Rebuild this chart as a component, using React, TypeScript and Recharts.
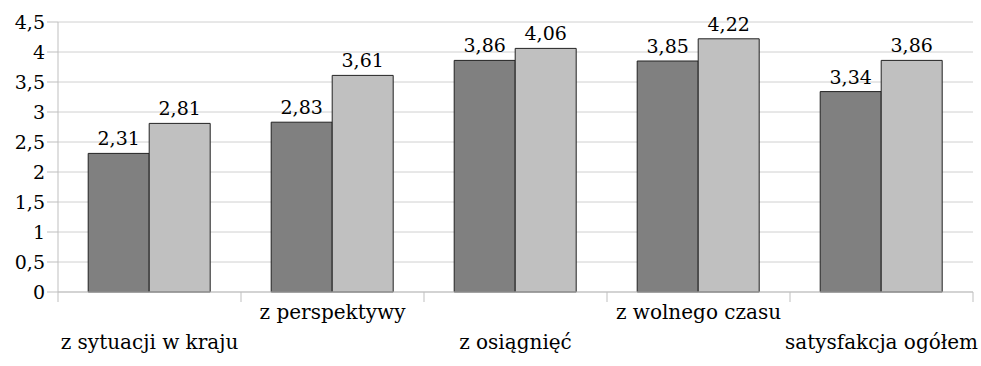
import { Bar, BarChart, CartesianGrid, LabelList, XAxis, YAxis } from "recharts";

const categories = [
  "z sytuacji w kraju",
  "z perspektywy",
  "z osiągnięć",
  "z wolnego czasu",
  "satysfakcja ogółem",
];
const seriesA = [2.31, 2.83, 3.86, 3.85, 3.34];
const seriesB = [2.81, 3.61, 4.06, 4.22, 3.86];
const yTicks = [0, 0.5, 1, 1.5, 2, 2.5, 3, 3.5, 4, 4.5];

const data = categories.map((name, i) => ({ name, a: seriesA[i], b: seriesB[i] }));

const W = 981;
const H = 366;
const margin = { top: 22, right: 8, left: 0, bottom: 0 };
const yAxisWidth = 58;
const band = (W - margin.left - margin.right - yAxisWidth) / categories.length;

const FONT = "'DejaVu Serif', serif";
const comma = (v: any) => String(v).replace(".", ",");

const CategoryTick = (props: any) => {
  const { x, y, payload, index } = props;
  const dy = index % 2 === 0 ? 57 : 27;
  const last = index === categories.length - 1;
  return (
    <g>
      <line x1={x - band / 2} x2={x - band / 2} y1={y} y2={y + 10} stroke="#bfbfbf" />
      {last && <line x1={x + band / 2} x2={x + band / 2} y1={y} y2={y + 10} stroke="#bfbfbf" />}
      <text x={x} y={y + dy} textAnchor="middle" fontSize={20} fontFamily={FONT} fill="#000">
        {payload.value}
      </text>
    </g>
  );
};

export default function App() {
  return (
    <div style={{ position: "absolute", left: 0, top: 0, background: "#fff" }}>
      <BarChart width={W} height={H} data={data} margin={margin} barCategoryGap="16.5%" barGap={0}>
        <CartesianGrid vertical={false} stroke="#d0d0d0" />
        <XAxis
          dataKey="name"
          interval={0}
          height={H - 292}
          axisLine={{ stroke: "#bfbfbf" }}
          tickLine={false}
          tickSize={0}
          tickMargin={0}
          tick={<CategoryTick />}
        />
        <YAxis
          width={yAxisWidth}
          domain={[0, 4.5]}
          ticks={yTicks}
          interval={0}
          tickFormatter={comma}
          axisLine={{ stroke: "#bfbfbf" }}
          tickLine={{ stroke: "#bfbfbf" }}
          tickSize={11}
          tickMargin={2}
          tick={{ fill: "#000", fontSize: 19, fontFamily: FONT }}
        />
        <Bar dataKey="a" fill="#808080" stroke="#222" strokeWidth={1} isAnimationActive={false}>
          <LabelList dataKey="a" position="top" offset={8} formatter={comma} fill="#000" fontSize={19} fontFamily={FONT} />
        </Bar>
        <Bar dataKey="b" fill="#c0c0c0" stroke="#222" strokeWidth={1} isAnimationActive={false}>
          <LabelList dataKey="b" position="top" offset={8} formatter={comma} fill="#000" fontSize={19} fontFamily={FONT} />
        </Bar>
      </BarChart>
    </div>
  );
}
